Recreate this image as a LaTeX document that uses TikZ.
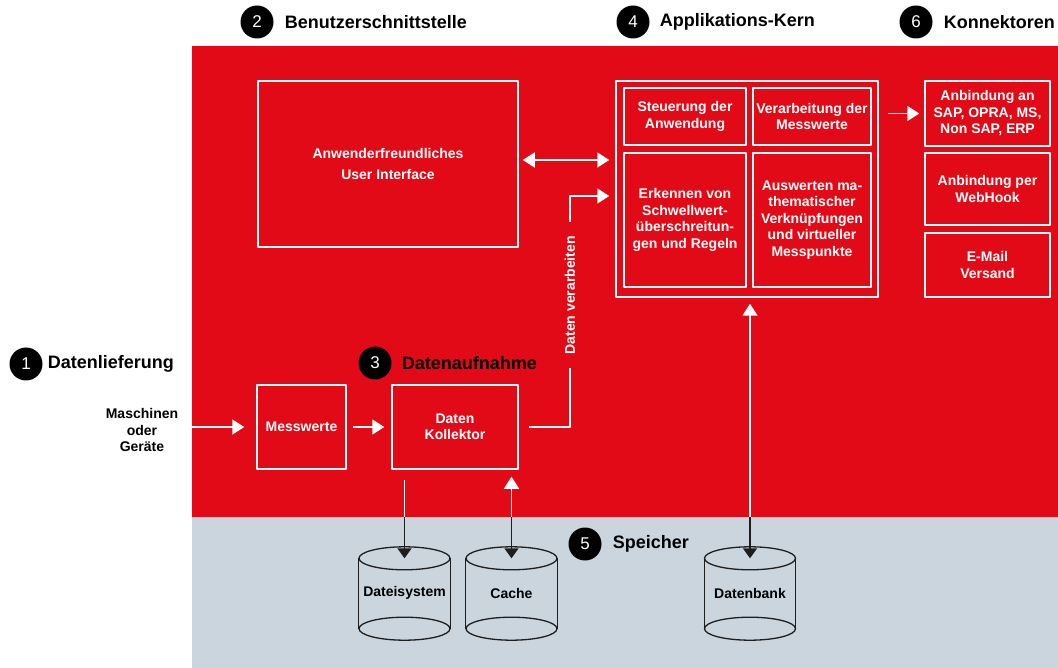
\documentclass[tikz,border=0pt]{standalone}
\usepackage{fontspec}
\setmainfont{Liberation Sans}
\usetikzlibrary{arrows.meta,positioning}
\definecolor{kernred}{RGB}{226,10,22}
\definecolor{speichergray}{RGB}{203,213,222}
\definecolor{pfeilschwarz}{RGB}{30,30,30}
\newcommand{\bodyfont}{\fontsize{14}{16.5}\selectfont\bfseries}
\newcommand{\headfont}{\fontsize{18}{21}\selectfont\bfseries}
\newcommand{\numfont}{\fontsize{17}{20}\selectfont}
\tikzset{
  box/.style={draw=white, line width=1.5pt, text=white, font=\bodyfont, align=center, inner sep=0pt},
  num/.style={circle, fill=black, text=white, minimum size=33pt, inner sep=0pt, font=\numfont},
  head/.style={font=\headfont, text=black, inner sep=0pt},
  wline/.style={draw=white, line width=1.5pt},
  warrow/.style={wline, -{Triangle[width=15pt,length=12pt]}},
  warrows/.style={wline, {Triangle[width=15pt,length=12pt]}-{Triangle[width=15pt,length=12pt]}},
  barrow/.style={draw=pfeilschwarz, line width=1.5pt, -{Triangle[width=14pt,length=10pt]}},
  cyl/.style={draw=pfeilschwarz, line width=1.3pt},
  drum/.style={minimum width=91pt, minimum height=93pt, inner sep=0pt, font=\bodyfont, text=black}
}
\begin{document}
\begin{tikzpicture}[x=1pt,y=-1pt,line join=round]
  \useasboundingbox (0,0) rectangle (1058,668);
  % areas
  \fill[kernred] (192,46) rectangle (1058,517);
  \fill[speichergray] (192,517) rectangle (1058,668);

  % headings
  \node[num] (n1) at (26,364) {1};
  \node[head, right=5pt of n1] {Datenlieferung};
  \node[num] (n2) at (257,22) {2};
  \node[head, right=11pt of n2] {Benutzerschnittstelle};
  \node[num] (n3) at (375,363) {3};
  \node[head, right=10pt of n3] {Datenaufnahme};
  \node[num] (n4) at (633,22) {4};
  \node[head, right=10pt of n4] {Applikations-Kern};
  \node[num] (n5) at (585,544) {5};
  \node[head, right=11pt of n5] {Speicher};
  \node[num] (n6) at (916,22) {6};
  \node[head, right=11pt of n6] {Konnektoren};

  % user interface
  \node[box, minimum width=260pt, minimum height=166pt] (ui) at (388,164)
    {Anwenderfreundliches\\[4pt]User Interface};

  % application core
  \node[box, minimum width=262pt, minimum height=216pt] (core) at (747,189) {};
  \node[box, minimum width=122pt, minimum height=57pt] (steuerung) at (685,116.5)
    {Steuerung der\\Anwendung};
  \node[box, minimum width=118pt, minimum height=57pt] (verarbeitung) at (812,116.5)
    {Verarbeitung der\\Messwerte};
  \node[box, minimum width=122pt, minimum height=134pt] (erkennen) at (685,220)
    {Erkennen von\\Schwellwert-\\überschreitun-\\gen und Regeln};
  \node[box, minimum width=118pt, minimum height=134pt] (auswerten) at (812,220)
    {Auswerten ma-\\thematischer\\Verknüpfungen\\und virtueller\\Messpunkte};

  % connectors
  \node[box, minimum width=125pt, minimum height=65pt] (anbindung) at (987.5,113.5)
    {Anbindung an\\SAP, OPRA, MS,\\Non SAP, ERP};
  \node[box, minimum width=125pt, minimum height=72pt] (webhook) at (987.5,189)
    {Anbindung per\\WebHook};
  \node[box, minimum width=125pt, minimum height=64pt] (email) at (987.5,265)
    {E-Mail\\Versand};

  % data acquisition
  \node[font=\bodyfont, align=center, text=black] (maschinen) at (142,430)
    {Maschinen\\oder\\Geräte};
  \node[box, minimum width=89pt, minimum height=84pt] (messwerte) at (301.5,427) {Messwerte};
  \node[box, minimum width=126pt, minimum height=84pt] (kollektor) at (455,427)
    {Daten\\Kollektor};

  % storage
  \node[drum] (dateisystem) at (404.5,593.5) {\raisebox{4pt}{Dateisystem}};
  \node[drum] (cache) at (511.5,593.5) {Cache};
  \node[drum] (datenbank) at (750,593.5) {Datenbank};
  \foreach \c in {dateisystem,cache,datenbank} {
    \draw[cyl] ([yshift=-11.5pt]\c.north) ellipse (45.5 and 11.5);
    \draw[cyl] ([yshift=11.5pt]\c.south) ellipse (45.5 and 11.5);
    \draw[cyl] ([yshift=-11.5pt]\c.north west) -- ([yshift=11.5pt]\c.south west);
    \draw[cyl] ([yshift=-11.5pt]\c.north east) -- ([yshift=11.5pt]\c.south east);
  }

  % arrows
  \coordinate (eingang) at (192,427);
  \draw[warrow, shorten >=12pt] (eingang) -- (messwerte.west);
  \draw[warrow, shorten <=6pt, shorten >=7pt] (messwerte.east) -- (kollektor.west);
  \coordinate (uiaus) at ([yshift=4pt]ui.east);
  \draw[warrows, shorten <=4pt, shorten >=6pt] (uiaus) -- (uiaus -| core.west);
  \draw[warrow, shorten <=9pt, shorten >=5pt] (core.east |- anbindung) -- (anbindung.west);
  \draw[warrow, shorten >=6pt] ([xshift=10pt]kollektor.east) -- ++(41,0) coordinate (knick)
    -- node[pos=0.57, rotate=90, fill=kernred, text=white, font=\bodyfont,
             inner xsep=14pt, inner ysep=1pt] {Daten verarbeiten}
    (knick |- 0,196) -- (core.west |- 0,196);

  % storage links
  \coordinate (dgrenze) at (dateisystem.north |- 0,517);
  \draw[wline] ([yshift=-10pt]dateisystem.north |- kollektor.south) -- (dgrenze);
  \draw[barrow] (dgrenze) -- ([yshift=-11.5pt]dateisystem.north);
  \coordinate (cgrenze) at (cache.north |- 0,517);
  \draw[warrow] (cgrenze) -- ([yshift=-7pt]cache.north |- kollektor.south);
  \draw[barrow] (cgrenze) -- ([yshift=-11.5pt]cache.north);
  \coordinate (bgrenze) at (datenbank.north |- 0,517);
  \draw[warrow] (bgrenze) -- ([yshift=-6pt]datenbank.north |- core.south);
  \draw[barrow] (bgrenze) -- ([yshift=-11.5pt]datenbank.north);
\end{tikzpicture}
\end{document}
